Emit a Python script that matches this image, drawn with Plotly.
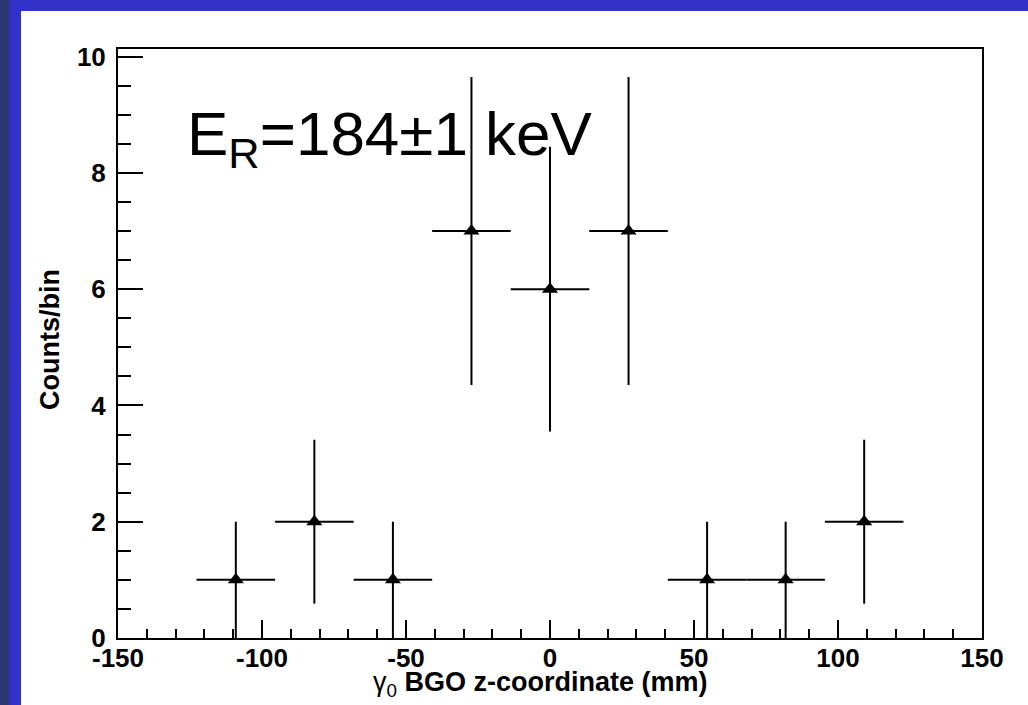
import plotly.graph_objects as go

# ---- data ----
bin_lo = -150.0
bin_hi = 150.0
n_bins = 11
counts = [0, 1, 2, 1, 7, 6, 7, 1, 1, 2, 0]
count_err = [0, 1.0, 1.41, 1.0, 2.65, 2.45, 2.65, 1.0, 1.0, 1.41, 0]
x_tickvals = [-150, -100, -50, 0, 50, 100, 150]
x_ticktext = ["-150", "-100", "-50", "0", "50", "100", "150"]
y_tickvals = [0, 2, 4, 6, 8, 10]
y_ticktext = ["0", "2", "4", "6", "8", "10"]
x_title = "γ<sub>0</sub> <b>BGO z-coordinate (mm)</b>"
y_title = "<b>Counts/bin</b>"
label_text = "E<sub>R</sub>=184±1 keV"

bw = (bin_hi - bin_lo) / n_bins
centers = [bin_lo + bw * (i + 0.5) for i in range(n_bins)]
xs = [c for c, n in zip(centers, counts) if n > 0]
ys = [n for n in counts if n > 0]
es = [e for e, n in zip(count_err, counts) if n > 0]

W, H = 1028, 705
L, R, T, B = 118, 46, 49, 67
pw, ph = W - L - R, H - T - B

def px(xp):
    return (xp - L) / pw

def py(yp):
    return (H - B - yp) / ph

fig = go.Figure()
fig.add_trace(go.Scatter(
    x=xs, y=ys, mode="markers",
    marker=dict(symbol="triangle-up", size=14, color="black"),
    error_x=dict(type="constant", value=bw / 2, color="black", thickness=2, width=0),
    error_y=dict(type="data", array=es, color="black", thickness=2, width=0),
    showlegend=False, cliponaxis=False,
))

tickfont = dict(family="Liberation Sans, Arial", size=26, color="black", weight="bold")

fig.update_xaxes(
    range=[bin_lo, bin_hi], tickmode="array", tickvals=x_tickvals, ticktext=x_ticktext,
    ticks="inside", ticklen=18, tickwidth=2,
    tickcolor="black", minor=dict(dtick=10, tick0=0, ticks="inside", ticklen=9, tickwidth=2, tickcolor="black"),
    showline=True, linecolor="black", linewidth=2, mirror=True, showgrid=False, zeroline=False,
    tickfont=tickfont, ticklabelstandoff=-4,
)
fig.update_yaxes(
    range=[0, 10.13], tickmode="array", tickvals=y_tickvals, ticktext=y_ticktext,
    ticks="inside", ticklen=25, tickwidth=2,
    tickcolor="black", minor=dict(dtick=0.5, tick0=0, ticks="inside", ticklen=13, tickwidth=2, tickcolor="black"),
    showline=True, linecolor="black", linewidth=2, mirror=True, showgrid=False, zeroline=False,
    tickfont=tickfont, ticklabelstandoff=5,
)

shapes = [
    dict(type="rect", xref="paper", yref="paper", x0=px(0), x1=px(W), y0=py(0), y1=py(11),
         fillcolor="#3232c8", line=dict(width=0), layer="below"),
    dict(type="rect", xref="paper", yref="paper", x0=px(9), x1=px(21), y0=py(0), y1=py(H),
         fillcolor="#3232c8", line=dict(width=0), layer="below"),
    dict(type="rect", xref="paper", yref="paper", x0=px(0), x1=px(9), y0=py(0), y1=py(H),
         fillcolor="#2a3870", line=dict(width=0), layer="below"),
]

annotations = [
    dict(text=label_text, xref="paper", yref="paper", x=px(185), y=py(97),
         xanchor="left", yanchor="top", showarrow=False,
         font=dict(family="Liberation Sans, Arial", size=62, color="black")),
    dict(text=y_title, xref="paper", yref="paper", x=px(50), y=py(340),
         xanchor="center", yanchor="middle", textangle=-90, showarrow=False,
         font=dict(family="Liberation Sans, Arial", size=27, color="black")),
    dict(text=x_title, xref="paper", yref="paper", x=px(540), y=py(665),
         xanchor="center", yanchor="top", showarrow=False,
         font=dict(family="Liberation Sans, Arial", size=27, color="black")),
]

fig.update_layout(
    width=W, height=H, margin=dict(l=L, r=R, t=T, b=B, pad=0),
    paper_bgcolor="white", plot_bgcolor="white",
    shapes=shapes, annotations=annotations,
)

fig.write_html("out.html")
